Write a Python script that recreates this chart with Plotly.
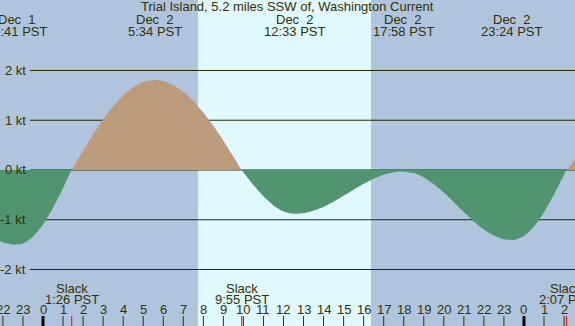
import plotly.graph_objects as go

# ---- data (hours since Dec 2 00:00 PST) ----
times = [-2.15, -2.0, -1.5, -1.317, -1.0, -0.5, 0.0, 0.5, 1.0, 1.433,
         1.5, 2.0, 2.5, 3.0, 3.5, 4.0, 4.5, 5.0, 5.567,
         6.0, 6.5, 7.0, 7.5, 8.0, 8.5, 9.0, 9.5, 9.917,
         10.0, 10.5, 11.0, 11.5, 12.0, 12.55,
         13.0, 13.5, 14.0, 14.5, 15.0, 15.5, 16.0, 16.5, 17.0, 17.5, 17.967,
         18.5, 19.0, 19.5, 20.0, 20.5, 21.0, 21.5, 22.0, 22.5, 23.0, 23.4,
         23.5, 24.0, 24.5, 25.0, 25.5, 26.0, 26.117, 26.55]
speed_kt = [-1.42, -1.46, -1.50, -1.50, -1.476, -1.34, -1.095, -0.76, -0.367, 0.0,
            0.046, 0.387, 0.714, 1.015, 1.28, 1.499, 1.664, 1.768, 1.81,
            1.788, 1.708, 1.573, 1.387, 1.155, 0.887, 0.590, 0.272, 0.0,
            -0.044, -0.30, -0.53, -0.713, -0.833, -0.88,
            -0.866, -0.817, -0.738, -0.636, -0.518, -0.396, -0.278, -0.175, -0.095, -0.045, -0.03,
            -0.063, -0.149, -0.284, -0.454, -0.647, -0.846, -1.034, -1.196, -1.319, -1.392, -1.41,
            -1.408, -1.326, -1.134, -0.848, -0.492, -0.095, 0.0, 0.22]

event_times = [-1.317, 5.567, 12.55, 17.967, 23.4]
event_dates = ["Dec  1", "Dec  2", "Dec  2", "Dec  2", "Dec  2"]
event_labels = ["22:41 PST", "5:34 PST", "12:33 PST", "17:58 PST", "23:24 PST"]

slack_times = [1.433, 9.917, 26.117]
slack_labels = ["1:26 PST", "9:55 PST", "2:07 PST"]

hour_ticks = list(range(-2, 27))
hour_labels = ["22", "23"] + [str(h) for h in range(24)] + ["0", "1", "2"]

kt_levels = [2, 1, 0, -1, -2]
kt_labels = ["2 kt", "1 kt", "0 kt", "-1 kt", "-2 kt"]

sunrise, sunset = 7.73, 16.37

title = "Trial Island, 5.2 miles SSW of, Washington Current"

# ---- styles ----
NIGHT = "#B0C4DE"
DAY = "#E0F8FF"
FLOOD = "#BD9C7D"
EBB = "#509470"
INK = "#333300"
FONT = "Liberation Sans"

pos = [max(v, 0.0) for v in speed_kt]
neg = [min(v, 0.0) for v in speed_kt]

fig = go.Figure()
fig.add_trace(go.Scatter(x=times, y=pos, mode="lines", line=dict(width=0, shape="spline", smoothing=0.6),
                         fill="tozeroy", fillcolor=FLOOD, hoverinfo="skip", showlegend=False))
fig.add_trace(go.Scatter(x=times, y=neg, mode="lines", line=dict(width=0, shape="spline", smoothing=0.6),
                         fill="tozeroy", fillcolor=EBB, hoverinfo="skip", showlegend=False))

shapes = []
shapes.append(dict(type="rect", xref="x", yref="paper", x0=sunrise, x1=sunset, y0=0, y1=1,
                   fillcolor=DAY, line=dict(width=0), layer="below"))
for lv in kt_levels:
    shapes.append(dict(type="line", xref="paper", yref="y", x0=30 / 575, x1=1, y0=lv, y1=lv,
                       line=dict(color="#2B2B00", width=1), layer="below"))
tick_top = 10 / 326
for h in hour_ticks:
    mid = (h % 24 == 0)
    shapes.append(dict(type="line", xref="x", yref="paper", x0=h, x1=h, y0=0, y1=tick_top,
                       line=dict(color="#000000" if mid else INK, width=3 if mid else 1)))
for t in slack_times:
    shapes.append(dict(type="line", xref="x", yref="paper", x0=t, x1=t, y0=0, y1=tick_top,
                       line=dict(color="#FF0000", width=1)))

ann = []
def txt(x, y, s, xref="x", xanchor="center"):
    ann.append(dict(x=x, y=y, xref=xref, yref="paper", text=s, showarrow=False,
                    xanchor=xanchor, yanchor="middle", font=dict(family=FONT, size=13, color=INK)))

def py(px):
    return 1 - px / 326

txt(0.5, py(7), title, xref="paper")
for t, d, l in zip(event_times, event_dates, event_labels):
    txt(t, py(19.5), d)
    txt(t, py(31.5), l)
for t, l in zip(slack_times, slack_labels):
    txt(t, py(288), "Slack")
    txt(t, py(299.5), l)
for h, l in zip(hour_ticks, hour_labels):
    txt(h, py(309.5), l)
for lv, l in zip(kt_levels, kt_labels):
    ann.append(dict(x=28 / 575, y=lv, xref="paper", yref="y", text=l, showarrow=False,
                    xanchor="right", yanchor="middle", font=dict(family=FONT, size=13, color=INK)))

x0 = (0 - 43) / 20.04
x1 = (575 - 43) / 20.04
fig.update_layout(
    width=575, height=326, margin=dict(l=0, r=0, t=0, b=0),
    paper_bgcolor=NIGHT, plot_bgcolor=NIGHT,
    xaxis=dict(range=[x0, x1], visible=False, fixedrange=True),
    yaxis=dict(range=[-3.136, 3.417], visible=False, fixedrange=True),
    shapes=shapes, annotations=ann, showlegend=False,
)
fig.write_html("out.html", config={"displayModeBar": False},
               post_script="document.body.style.margin='0';document.body.style.overflow='hidden';")
